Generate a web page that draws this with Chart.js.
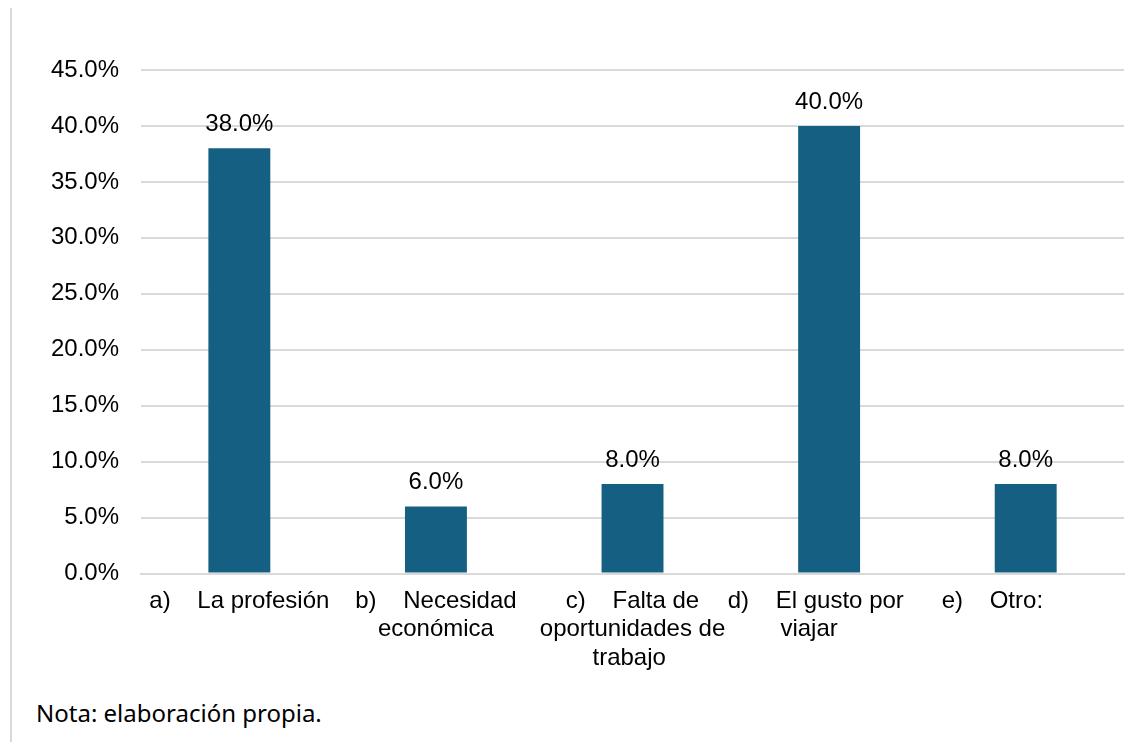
<!DOCTYPE html>
<html>
<head>
<meta charset="utf-8">
<script src="https://cdn.jsdelivr.net/npm/chart.js@4.4.1/dist/chart.umd.min.js"></script>
<style>
  html, body { margin: 0; padding: 0; background: #fff; }
  body { width: 1146px; height: 742px; position: relative; overflow: hidden; }
  #frame { position: absolute; left: 10px; top: 8px; width: 2px; height: 734px; background: #d9d9d9; }
  #wrap { position: absolute; left: 0; top: 0; width: 1146px; height: 689px; }
  #nota { position: absolute; left: 36px; top: 696px; font-family: "Noto Sans", sans-serif; font-size: 24px; color: #000; }
</style>
</head>
<body>
<div id="frame"></div>
<div id="wrap"><canvas id="myBarChart"></canvas></div>
<div id="nota">Nota: elaboración propia.</div>
<script>
// categories (wrapped as in the source sheet, trailing blanks kept)
var categories = [
    ["a)    La profesión"],
    ["b)    Necesidad", "económica"],
    ["c)    Falta de", "oportunidades de", "trabajo "],
    ["d)    El gusto por    ", "viajar      "],
    ["e)    Otro:          "]
];
var percentages = [38.0, 6.0, 8.0, 40.0, 8.0];
var yTicks = [0, 5, 10, 15, 20, 25, 30, 35, 40, 45];

var font = { family: "'Liberation Sans', Arial, sans-serif", size: 24 };

// value labels above each bar
var valueLabels = {
    id: 'valueLabels',
    afterDatasetsDraw: function(chart) {
        var ctx = chart.ctx;
        var meta = chart.getDatasetMeta(0);
        ctx.save();
        ctx.font = font.size + "px " + font.family;
        ctx.fillStyle = '#000';
        ctx.textAlign = 'center';
        ctx.textBaseline = 'alphabetic';
        for(var i=0; i<meta.data.length; i++){
            var bar = meta.data[i];
            ctx.fillText(percentages[i].toFixed(1) + '%', bar.x, bar.y - 17);
        }
        ctx.restore();
    }
};

new Chart(document.getElementById("myBarChart"), {
    type: 'bar',
    data: {
        labels: categories,
        datasets: [{
            data: percentages,
            backgroundColor: '#156082',
            categoryPercentage: 1,
            barPercentage: 0.315
        }]
    },
    options: {
        responsive: true,
        maintainAspectRatio: false,
        animation: false,
        layout: { padding: { left: 29, right: 22, top: 70, bottom: 3 } },
        plugins: {
            legend: { display: false },
            tooltip: { enabled: false }
        },
        scales: {
            x: {
                grid: { display: false, drawTicks: false },
                border: { display: true, color: '#d9d9d9', width: 2 },
                ticks: { color: '#000', font: font, padding: 13, maxRotation: 0, autoSkip: false },
                // wide category labels should not push the plot area inwards
                afterFit: function(axis){
                    axis.paddingLeft = 0;
                    axis.paddingRight = 0;
                }
            },
            y: {
                min: 0,
                max: 45,
                afterBuildTicks: function(axis) {
                    axis.ticks = yTicks.map(function(v){ return { value: v }; });
                },
                grid: { color: '#d9d9d9', lineWidth: 2, drawTicks: false },
                border: { display: false },
                ticks: {
                    color: '#000',
                    font: font,
                    padding: 22,
                    callback: function(v){ return v.toFixed(1) + '%'; }
                }
            }
        }
    },
    plugins: [valueLabels]
});
</script>
</body>
</html>
